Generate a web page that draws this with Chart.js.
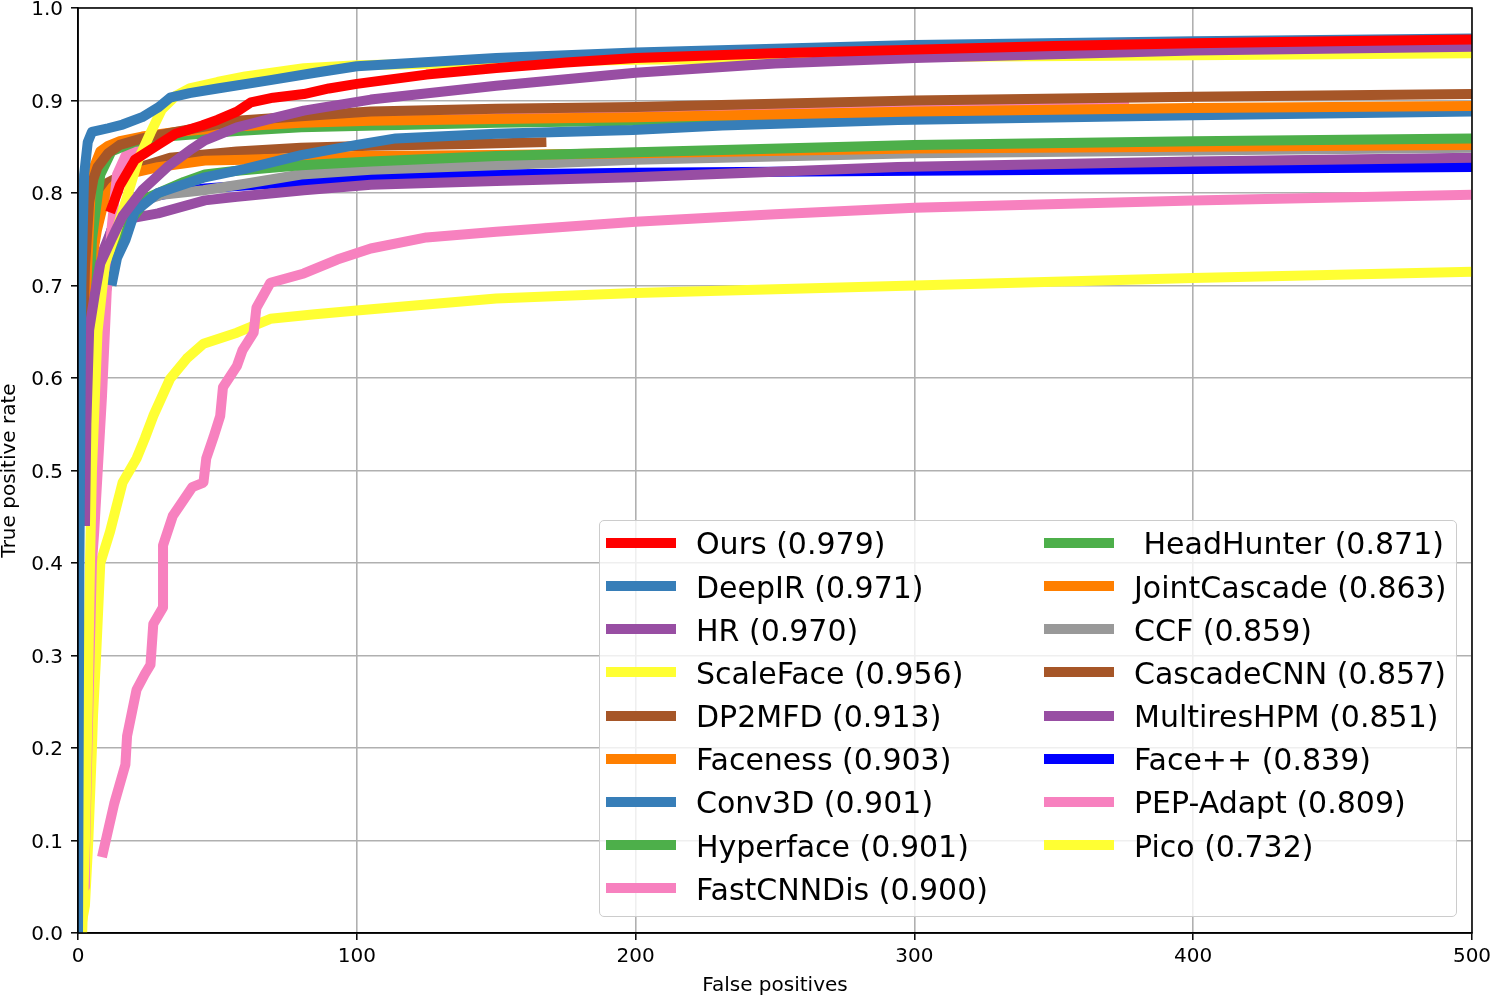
<!DOCTYPE html>
<html>
<head>
<meta charset="utf-8">
<title>FDDB - curvas ROC</title>
<script src="https://cdn.jsdelivr.net/npm/chart.js@4.4.1/dist/chart.umd.min.js"></script>
<style>
  body { margin: 0; background: #fff; }
  #contenedor { position: relative; width: 1492px; height: 996px; }
  #leyenda {
    position: absolute; left: 599px; top: 520px; width: 858px; height: 397px;
    box-sizing: border-box; border: 1px solid #cccccc; border-radius: 5px;
    background: rgba(255, 255, 255, 0.8);
    font-family: 'DejaVu Sans'; font-size: 30px; color: #000;
  }
  .texto { position: absolute; height: 43.16px; line-height: 43.16px; white-space: pre; }
  .linea { position: absolute; width: 70px; height: 10px; }
</style>
</head>
<body>
<div id="contenedor">
  <canvas id="grafico" width="1492" height="996"></canvas>
  <div id="leyenda"></div>
</div>
<script>
'use strict';

// puntos: [falsos positivos, tasa de verdaderos positivos]
const ours = [[11.5,0.779],[15,0.808],[20.4,0.836],[28.7,0.852],[35,0.864],[44.5,0.873],[50,0.879],[57,0.888],[62,0.898],[70,0.903],[81,0.907],[90,0.913],[100,0.918],[125,0.928],[150,0.935],[175,0.941],[200,0.946],[250,0.951],[300,0.955],[350,0.959],[400,0.962],[450,0.964],[500,0.966]];
const deepIR = [[0,0],[0.5,0.4],[1.2,0.7],[2.2,0.82],[3.5,0.855],[5,0.866],[10.8,0.87],[16,0.874],[23,0.882],[29,0.893],[33,0.903],[40,0.908],[50,0.913],[69,0.922],[85,0.93],[100,0.937],[150,0.946],[200,0.952],[300,0.96],[400,0.964],[500,0.967]];
const hr = [[2.5,0.44],[3,0.55],[4,0.652],[6,0.69],[8,0.724],[12,0.75],[16,0.775],[23,0.803],[32,0.828],[41,0.848],[45.5,0.857],[57,0.871],[70,0.881],[81,0.889],[105,0.901],[150,0.916],[200,0.93],[250,0.94],[300,0.946],[400,0.954],[500,0.958]];
const scaleFace = [[1.5,0],[2.5,0.1],[3.5,0.25],[4.3,0.4],[5,0.5],[7,0.65],[9.7,0.724],[13,0.752],[17,0.79],[21.5,0.835],[26,0.865],[30,0.89],[35,0.905],[40,0.913],[50,0.92],[60,0.926],[81,0.935],[100,0.938],[150,0.941],[200,0.944],[300,0.947],[400,0.949],[500,0.951]];
const dp2mfd = [[1.5,0.6],[2.5,0.72],[4,0.79],[5.5,0.815],[7,0.828],[10.8,0.843],[15,0.852],[23,0.859],[35,0.866],[57,0.878],[80,0.883],[105,0.888],[150,0.891],[200,0.893],[300,0.9],[400,0.904],[500,0.907]];
const faceness = [[1.5,0.55],[3,0.7],[4.5,0.8],[6,0.83],[8,0.845],[10.8,0.851],[15,0.856],[23,0.861],[35,0.866],[57,0.872],[80,0.876],[105,0.878],[150,0.88],[200,0.882],[300,0.888],[400,0.892],[500,0.894]];
const conv3D = [[12,0.7],[14,0.73],[17,0.749],[20.4,0.78],[28.7,0.8],[45.5,0.817],[60,0.826],[80,0.841],[100,0.852],[114,0.859],[150,0.864],[199,0.868],[231,0.873],[294,0.879],[400,0.884],[500,0.888]];
const hyperface = [[3,0.6],[5,0.75],[8,0.82],[12,0.845],[20,0.855],[35,0.862],[57,0.867],[80,0.871],[150,0.876],[200,0.878],[300,0.884],[400,0.888],[500,0.89]];
const fastCNNDis = [[2.2,0.05],[2.5,0.086],[3.6,0.23],[5,0.4],[5.8,0.433],[8.6,0.58],[10.4,0.7],[12,0.76],[14,0.82],[17,0.84],[25,0.856],[40,0.866],[60,0.872],[100,0.878],[150,0.882],[200,0.886],[300,0.894],[377,0.897]];
const headHunter = [[8,0.7],[12,0.74],[15,0.76],[19,0.771],[25,0.795],[38,0.812],[45.5,0.82],[57,0.824],[80,0.83],[105,0.834],[150,0.84],[200,0.844],[300,0.852],[400,0.856],[500,0.859]];
const jointCascade = [[2,0.6],[3.5,0.7],[6.8,0.76],[9.7,0.796],[12.5,0.807],[17,0.82],[28.7,0.828],[45.5,0.835],[60,0.836],[100,0.84],[150,0.841],[200,0.843],[300,0.848],[400,0.85],[500,0.852]];
const ccf = [[9,0.68],[12,0.72],[14,0.745],[17,0.768],[22,0.79],[30,0.798],[45,0.803],[60,0.81],[80,0.82],[105,0.825],[150,0.83],[200,0.836],[300,0.843],[400,0.846],[500,0.849]];
const cascadeCNN = [[2,0.62],[3,0.72],[5,0.78],[10,0.81],[20,0.826],[33,0.838],[57,0.845],[80,0.849],[105,0.851],[140,0.853],[168,0.855]];
const multiresHPM = [[2.5,0.44],[3.5,0.6],[5,0.68],[8,0.73],[12,0.76],[16,0.771],[28.7,0.778],[45.5,0.792],[57,0.796],[81,0.803],[105,0.809],[150,0.813],[199,0.817],[294,0.828],[400,0.834],[500,0.838]];
const facePP = [[5,0.62],[8,0.72],[12,0.76],[17,0.785],[25,0.795],[33,0.8],[45.5,0.805],[69,0.81],[105,0.816],[150,0.82],[200,0.822],[300,0.824],[400,0.826],[500,0.828]];
const pepAdapt = [[8.6,0.082],[13,0.14],[17,0.182],[17.6,0.213],[21,0.263],[24,0.28],[26,0.29],[27,0.334],[30.5,0.352],[30.5,0.419],[34,0.451],[41,0.482],[45,0.487],[46,0.513],[48.6,0.536],[51,0.559],[52,0.59],[57,0.613],[59,0.63],[63,0.649],[64,0.676],[69,0.703],[81,0.713],[93,0.728],[105,0.74],[125,0.752],[150,0.758],[200,0.769],[250,0.777],[300,0.784],[400,0.792],[500,0.798]];
const pico = [[1,0.005],[2.5,0.03],[3.7,0.1],[5,0.2],[5.4,0.236],[6.5,0.3],[8,0.4],[11.5,0.434],[16,0.487],[21,0.513],[24,0.535],[27,0.559],[33,0.599],[39,0.621],[45,0.637],[57,0.649],[69,0.664],[85,0.669],[100,0.673],[150,0.686],[200,0.692],[300,0.7],[400,0.708],[500,0.715]];

const nombres = ['Ours', 'DeepIR', 'HR', 'ScaleFace', 'DP2MFD', 'Faceness', 'Conv3D', 'Hyperface', 'FastCNNDis',
                 ' HeadHunter', 'JointCascade', 'CCF', 'CascadeCNN', 'MultiresHPM', 'Face++', 'PEP-Adapt', 'Pico'];
const puntajes = ['0.979', '0.971', '0.970', '0.956', '0.913', '0.903', '0.901', '0.901', '0.900',
                  '0.871', '0.863', '0.859', '0.857', '0.851', '0.839', '0.809', '0.732'];
const colores = ['#ff0000', '#377eb8', '#984ea3', '#ffff33', '#a65628', '#ff7f00', '#377eb8', '#4daf4a', '#f781bf',
                 '#4daf4a', '#ff7f00', '#999999', '#a65628', '#984ea3', '#0000ff', '#f781bf', '#ffff33'];
const curvas = [ours, deepIR, hr, scaleFace, dp2mfd, faceness, conv3D, hyperface, fastCNNDis,
                headHunter, jointCascade, ccf, cascadeCNN, multiresHPM, facePP, pepAdapt, pico];

const ticksX = [0, 100, 200, 300, 400, 500];
const ticksY = [0, 0.1, 0.2, 0.3, 0.4, 0.5, 0.6, 0.7, 0.8, 0.9, 1.0];

Chart.defaults.font.family = 'DejaVu Sans';

const fuenteEjes = { family: 'DejaVu Sans', size: 20 };

const datasets = curvas.map((curva, i) => ({
    label: nombres[i] + ' (' + puntajes[i] + ')',
    data: curva,
    borderColor: colores[i],
    backgroundColor: colores[i],
    borderWidth: 10,
    borderJoinStyle: 'round',
    pointRadius: 0,
    tension: 0,
    fill: false,
    clip: 0
}));

// marco negro alrededor del area (como los spines de matplotlib)
const marco = {
    id: 'marco',
    afterDatasetsDraw(chart) {
        const { ctx, chartArea } = chart;
        ctx.save();
        ctx.strokeStyle = '#000';
        ctx.lineWidth = 1.5;
        ctx.strokeRect(chartArea.left, chartArea.top, chartArea.right - chartArea.left, chartArea.bottom - chartArea.top);
        ctx.restore();
    }
};

const grafico = new Chart(document.getElementById('grafico'), {
    type: 'line',
    data: { datasets: datasets },
    options: {
        responsive: false,
        devicePixelRatio: 1,
        animation: false,
        layout: { padding: { top: 8, right: 20, left: 0, bottom: 0 } },
        plugins: {
            legend: { display: false },
            tooltip: { enabled: false }
        },
        scales: {
            x: {
                type: 'linear',
                min: 0,
                max: 500,
                afterBuildTicks: (scale) => { scale.ticks = ticksX.map(v => ({ value: v })); },
                afterFit: (scale) => { scale.height = 63; scale.paddingLeft = 0; scale.paddingRight = 0; },
                ticks: { color: '#000', font: fuenteEjes, padding: 5, maxRotation: 0 },
                grid: { color: '#b0b0b0', lineWidth: 1.6, tickColor: '#000', tickLength: 7, tickWidth: 1.5 },
                border: { color: '#000', width: 1.5 },
                title: { display: true, text: 'False positives', color: '#000', font: { family: 'DejaVu Sans', size: 20, lineHeight: 1.05 }, padding: { top: 0, bottom: 0 } }
            },
            y: {
                type: 'linear',
                min: 0,
                max: 1,
                afterBuildTicks: (scale) => { scale.ticks = ticksY.map(v => ({ value: v })); },
                afterFit: (scale) => { scale.width = 78; scale.paddingTop = 0; scale.paddingBottom = 0; },
                ticks: { color: '#000', font: fuenteEjes, padding: 8, labelOffset: 2, callback: (v) => Number(v).toFixed(1) },
                grid: { color: '#b0b0b0', lineWidth: 1.6, tickColor: '#000', tickLength: 7, tickWidth: 1.5 },
                border: { color: '#000', width: 1.5 },
                title: { display: true, text: 'True positive rate', color: '#000', font: { family: 'DejaVu Sans', size: 20, lineHeight: 1 }, padding: { top: 0, bottom: 0 } }
            }
        }
    },
    plugins: [marco]
});

// leyenda en dos columnas (9 + 8 entradas), dentro del area del grafico
const mostrarLeyenda = () => {
    let caja = document.querySelector('#leyenda');
    caja.innerHTML = '';
    const alto = 43.16;
    grafico.data.datasets.forEach((ds, i) => {
        let col = Math.floor(i / 9);
        let fila = i % 9;
        let centro = 22 + fila * alto;

        let linea = document.createElement('div');
        linea.className = 'linea';
        linea.style.background = ds.borderColor;
        linea.style.left = (6 + col * 438) + 'px';
        linea.style.top = (centro - 5) + 'px';
        caja.appendChild(linea);

        let texto = document.createElement('div');
        texto.className = 'texto';
        texto.textContent = ds.label;
        texto.style.left = (96 + col * 438) + 'px';
        texto.style.top = (centro - alto / 2 + 1) + 'px';
        caja.appendChild(texto);
    });
};

mostrarLeyenda();
</script>
</body>
</html>
